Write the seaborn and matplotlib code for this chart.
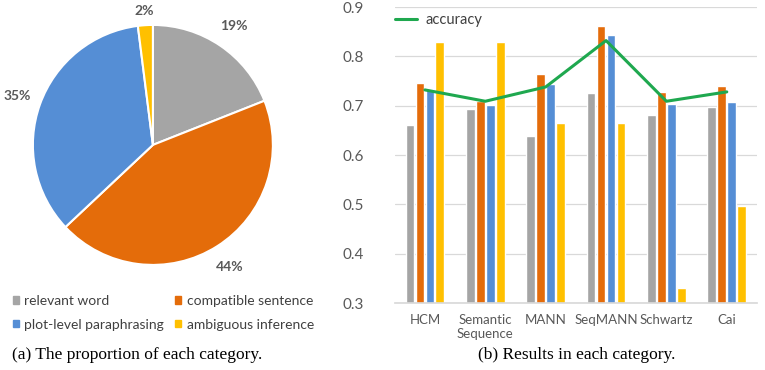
import numpy as np
import matplotlib.pyplot as plt
import seaborn as sns
import pandas as pd
from matplotlib.patches import Patch
from matplotlib.lines import Line2D

# pie data
pie_labels = ['relevant word', 'compatible sentence', 'plot-level paraphrasing', 'ambiguous inference']
pie_share = [19, 44, 35, 2]

# bar data
models = ['HCM', 'Semantic\nSequence', 'MANN', 'SeqMANN', 'Schwartz', 'Cai']
relevant_word = [0.661, 0.693, 0.639, 0.725, 0.681, 0.697]
compatible_sentence = [0.746, 0.709, 0.764, 0.862, 0.728, 0.740]
plot_level = [0.734, 0.702, 0.743, 0.844, 0.704, 0.707]
ambiguous = [0.830, 0.830, 0.664, 0.664, 0.331, 0.497]
accuracy = [0.732, 0.709, 0.738, 0.832, 0.709, 0.728]

colors = ['#A5A5A5', '#E46C0A', '#558ED5', '#FFC000']
green = '#1FA84F'
text_grey = '#595959'

sns.set_theme(style='white')
plt.rcParams['font.family'] = ['Lato', 'DejaVu Sans']

fig = plt.figure(figsize=(7.65, 3.70), dpi=100)

# ---- pie ----
ax1 = fig.add_axes([0.043, 0.284, 0.3137, 0.6486])
wedges, texts, autotexts = ax1.pie(
    pie_share, colors=colors, startangle=90, counterclock=False,
    autopct='%d%%', pctdistance=1.2,
    wedgeprops=dict(edgecolor='white', linewidth=1.5))
for t, share in zip(autotexts, pie_share):
    t.set_color(text_grey)
    t.set_fontweight('bold')
    t.set_fontsize(10)
    if share < 5:
        # small slice label sits a bit closer in
        x, y = t.get_position()
        t.set_position((x * 0.93, y * 0.93))
ax1.set_xlim(-1, 1)
ax1.set_ylim(-1, 1)
ax1.set_aspect('equal')
ax1.axis('off')

handles = [Patch(color=colors[i], label=pie_labels[i]) for i in [0, 2, 1, 3]]
fig.legend(handles=handles, ncol=2, loc='center left', bbox_to_anchor=(0.0, 0.155),
           frameon=False, fontsize=10, handlelength=0.45, handleheight=0.45,
           handletextpad=0.4, columnspacing=0.8, labelspacing=0.85, labelcolor='#404040')

# ---- bars ----
ax2 = fig.add_axes([0.516, 0.181, 0.4735, 0.8])
df = pd.DataFrame({'model': models * 4,
                   'score': relevant_word + compatible_sentence + plot_level + ambiguous,
                   'category': np.repeat(pie_labels, len(models))})
sns.barplot(data=df, x='model', y='score', hue='category', palette=colors,
            width=0.66, gap=0.12, ax=ax2, legend=False, saturation=1)
sns.lineplot(x=np.arange(len(models)), y=accuracy, color=green, linewidth=2.2,
             ax=ax2, legend=False)
ax2.set_ylim(0.3, 0.9)
ax2.set_xlim(-0.5, 5.5)
ax2.set_yticks(np.arange(0.3, 0.91, 0.1))
ax2.set_yticklabels([f'{v:.1f}' for v in np.arange(0.3, 0.91, 0.1)])
ax2.set_xlabel('')
ax2.set_ylabel('')
ax2.yaxis.grid(True, color='#D9D9D9', linewidth=0.9)
ax2.set_axisbelow(True)
for s in ['top', 'right', 'left']:
    ax2.spines[s].set_visible(False)
ax2.spines['bottom'].set_color('#D9D9D9')
ax2.tick_params(axis='y', length=0, pad=22, labelsize=11, labelcolor=text_grey)
ax2.tick_params(axis='x', length=0, pad=8, labelsize=9.5, labelcolor=text_grey)
ax2.legend(handles=[Line2D([0], [0], color=green, lw=2.2, label='accuracy')],
           loc='upper left', bbox_to_anchor=(-0.035, 1.025), frameon=False,
           fontsize=10.5, handlelength=1.5, handletextpad=0.6, labelcolor='#404040')

# captions
fig.text(0.016, 0.04, '(a) The proportion of each category.', family='Liberation Serif',
         fontsize=12.5, va='center', color='black')
fig.text(0.754, 0.04, '(b) Results in each category.', family='Liberation Serif',
         fontsize=12.5, va='center', ha='center', color='black')

plt.savefig('out.png', dpi=100)
